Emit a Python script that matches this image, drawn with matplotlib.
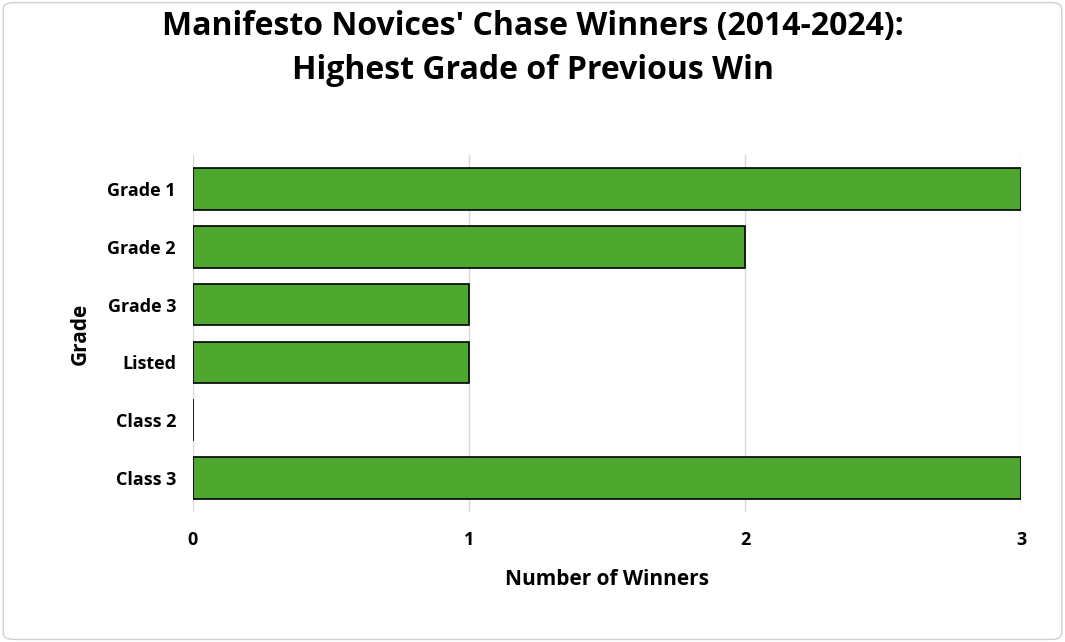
import matplotlib.pyplot as plt
from matplotlib.patches import FancyBboxPatch

# --- Data ---
grades = ["Grade 1", "Grade 2", "Grade 3", "Listed", "Class 2", "Class 3"]
winners = [3, 2, 1, 1, 0, 3]
x_ticks = [0, 1, 2, 3]

plt.rcParams['font.family'] = ['Open Sans', 'DejaVu Sans']
plt.rcParams['font.weight'] = 'bold'

fig = plt.figure(figsize=(10.65, 6.42), dpi=100)
ax = fig.add_axes([0.181, 0.2025, 0.778, 0.556])

# light border around the whole chart
fig.patches.append(FancyBboxPatch((0.003, 0.004), 0.994, 0.992, boxstyle="round,pad=0,rounding_size=0.01",
                                  transform=fig.transFigure, fill=False, edgecolor="#d0d0d0", lw=1))

ypos = list(range(len(grades)))
ax.barh(ypos, winners, height=0.72, color="#4ea72e", edgecolor="black", linewidth=1.2, zorder=3)

ax.set_ylim(len(grades) - 0.41, -0.59)
ax.set_xlim(0, 3)
ax.set_yticks(ypos)
ax.set_yticklabels(grades, fontsize=13, fontweight='bold')
ax.set_xticks(x_ticks)
ax.set_xticklabels([str(t) for t in x_ticks], fontsize=13, fontweight='bold')
ax.tick_params(length=0, pad=12)
ax.tick_params(axis='x', pad=14)
ax.grid(axis='x', color="#d9d9d9", lw=1, zorder=0)
for s in ax.spines.values():
    s.set_visible(False)

ax.set_xlabel("Number of Winners", fontsize=15, fontweight='bold', labelpad=14)
ax.set_ylabel("Grade", fontsize=15, fontweight='bold', labelpad=12)
fig.text(0.5, 0.925, "Manifesto Novices' Chase Winners (2014-2024):\nHighest Grade of Previous Win",
         ha='center', va='center', fontsize=23, fontweight='bold', linespacing=1.45)

fig.savefig("out.png", dpi=100)
